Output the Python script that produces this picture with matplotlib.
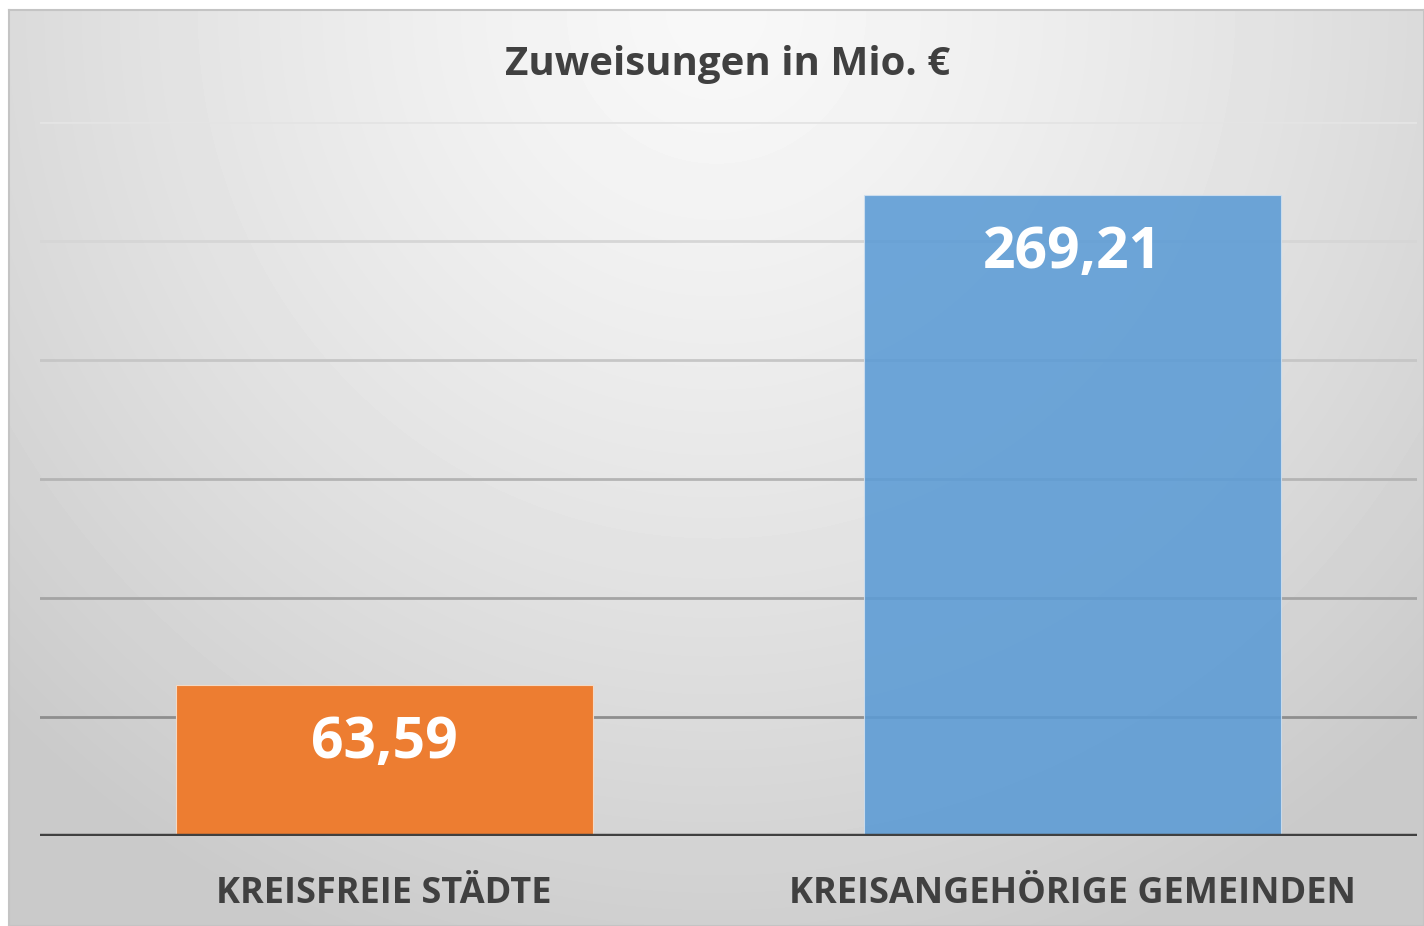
import matplotlib.pyplot as plt
import numpy as np

plt.rcParams['font.family'] = ['Open Sans', 'DejaVu Sans']

# Daten
kategorien = ['KREISFREIE STÄDTE', 'KREISANGEHÖRIGE GEMEINDEN']
werte = [63.59, 269.21]
werte_text = ['63,59', '269,21']
farben = ['#ED7D31', '#5B9BD5']
titel = 'Zuweisungen in Mio. €'

W, H = 1424, 926
fig = plt.figure(figsize=(W / 100, H / 100), dpi=100)
fig.patch.set_facecolor('white')

# Hintergrund mit radialem Verlauf (Chart-Bereich)
bx0, by0, bx1, by1 = 9, 10, 1424, 926
bg = fig.add_axes([bx0 / W, 1 - by1 / H, (bx1 - bx0) / W, (by1 - by0) / H])
yy, xx = np.mgrid[0:1:300j, 0:1:460j]
r = np.sqrt(((xx - 0.5) / 0.7) ** 2 + ((yy - 0.0) / 1.1) ** 2)
grau = (248 - 46 * np.clip(r, 0, 1) ** 1.3) / 255
bg.imshow(grau, cmap='gray', vmin=0, vmax=1, aspect='auto',
          extent=[0, 1, 0, 1], origin='upper', interpolation='bilinear')
bg.set_xticks([])
bg.set_yticks([])
for s in bg.spines.values():
    s.set_color('#c4c4c4')
    s.set_linewidth(1.5)

# Diagramm
ax = fig.add_axes([40 / W, 1 - 836 / H, (1417 - 40) / W, (836 - 122) / H])
ax.set_facecolor('none')
ax.set_xlim(-0.5, 1.5)
ax.set_ylim(0, 300)

gitter = [50, 100, 150, 200, 250, 300]
gitter_farben = ['#8e8e8e', '#a4a4a4', '#b4b4b4', '#c6c6c6', '#d6d6d6', '#e4e4e4']
for g, c in zip(gitter, gitter_farben):
    ax.axhline(g, color=c, linewidth=2, zorder=1)

x = np.arange(len(werte))
bars = ax.bar(x, werte, width=0.605, color=farben, zorder=2,
              edgecolor='#f4d9c4', linewidth=0.8)
bars[1].set_alpha(0.88)
bars[1].set_edgecolor('#cfe0f0')

for i, (v, t) in enumerate(zip(werte, werte_text)):
    ax.annotate(t, xy=(i, v), xytext=(0, -58 * 0.72), textcoords='offset points',
                ha='center', va='center', color='white', fontsize=41,
                fontweight='bold', zorder=3)

ax.axhline(0, color='#404040', linewidth=3.2, zorder=4)
ax.set_xticks(x)
ax.set_xticklabels(kategorien, fontsize=26, fontweight='bold', color='#404040')
ax.tick_params(axis='x', length=0, pad=29)
ax.set_yticks([])
for s in ax.spines.values():
    s.set_visible(False)

fig.text(728 / W, 1 - 65 / H, titel, ha='center', va='center',
         fontsize=29, fontweight='bold', color='#404040')

fig.savefig('out.png', dpi=100)
